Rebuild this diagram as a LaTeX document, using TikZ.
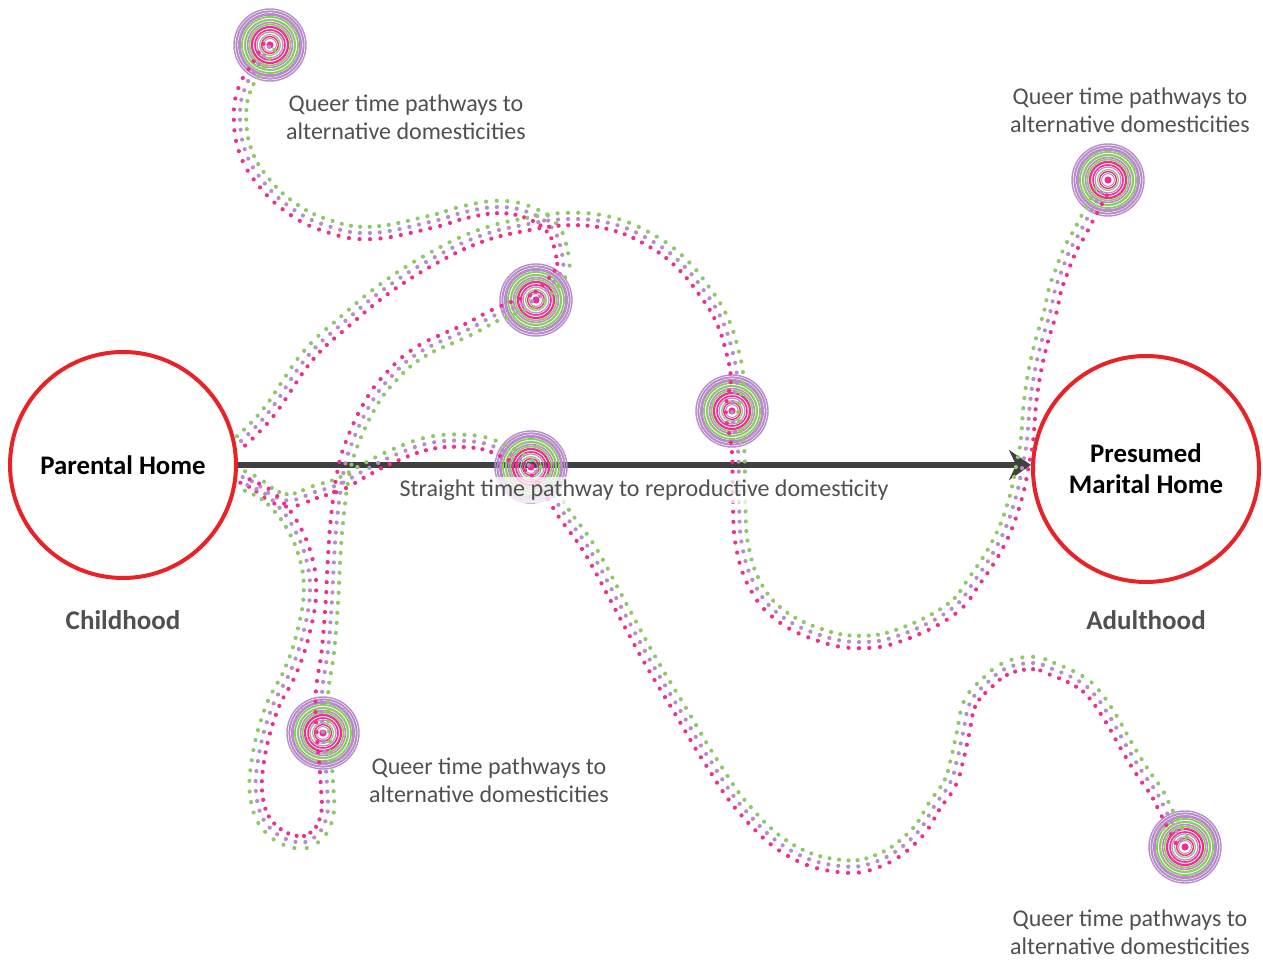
\documentclass[tikz,border=0pt]{standalone}
\usepackage{fontspec}
\setmainfont{Carlito}
\usetikzlibrary{arrows.meta,decorations.markings}
\definecolor{homered}{RGB}{232,34,38}
\definecolor{arrowgray}{RGB}{64,64,64}
\definecolor{textgray}{RGB}{80,80,80}
\definecolor{qgreen}{RGB}{142,200,104}
\definecolor{qpurple}{RGB}{184,140,202}
\definecolor{qpink}{RGB}{236,48,140}
\def\target#1(#2){%
  \coordinate (#1) at (#2);
  \foreach \r/\w/\col in {18/0.7/qpurple, 16.8/1/qpurple, 15.3/1.4/qpurple, 14/0.9/qgreen, 12.5/1.1/qgreen, 11.2/0.8/qpurple, 10.2/0.8/qgreen, 9/1.1/qpink, 7.5/0.8/qpink, 6.5/0.6/qpurple, 5.2/0.6/qgreen, 4.2/0.7/qpink, 3.2/0.5/qpurple}
    {\draw[line width=\w pt, color=\col] (#1) circle (\r pt);}
  \fill[qpink] (#1) circle (1.8pt);
}
\tikzset{
  home/.style={draw=homered, line width=2pt, circle, minimum size=113pt, inner sep=0pt, align=center, font=\bfseries\fontsize{13.4}{15.5}\selectfont},
  age/.style={text=textgray, font=\bfseries\fontsize{13.5}{16}\selectfont},
  qlabel/.style={text=textgray, align=center, font=\fontsize{12}{14}\selectfont},
  straightlabel/.style={qlabel, fill=white, fill opacity=0.75, text opacity=1, inner xsep=2pt, inner ysep=1.5pt},
  pathway/.style={decoration={markings, mark=between positions 0.004 and 0.996 step 5pt with {
      \fill[qgreen] (0pt,3.1pt) circle (1.05pt);
      \fill[qpurple] (0pt,0pt) circle (1.05pt);
      \fill[qpink] (0pt,-3.1pt) circle (1.05pt);}}, postaction={decorate}}
}
\begin{document}
\begin{tikzpicture}[x=0.5pt, y=-0.5pt]
  \useasboundingbox (0,0) rectangle (1263,961);

  % homes
  \node[home] (parental) at (123,465) {Parental Home};
  \node[home] (marital) at (1146,469) {Presumed\\Marital Home};
  \node[age] (childhood) at (123,620) {Childhood};
  \node[age] (adulthood) at (1146,620) {Adulthood};

  % straight time
  \draw[line width=3pt, arrowgray, -{Stealth[length=11pt, width=15pt]}] (parental) -- (parental -| marital.west);

  % targets
  \target{t1}(270,45)
  \target{t2}(536,300)
  \target{t3}(531,467)
  \target{t4}(732,411)
  \target{t5}(1108,180)
  \target{t6}(323,733)
  \target{t7}(1185,847)

  % queer time pathways
  \path[pathway] plot[smooth, tension=0.7] coordinates {(t1) (258,66) (245,88) (240,115) (245,150) (262,180) (290,207) (325,225) (370,233) (430,222) (465,212) (500,207) (530,213) (552,228) (561,250) (561,272) (t2)};
  \path[pathway] plot[smooth, tension=0.7] coordinates {(parental.10) (268,413) (307,357) (343,323) (387,287) (435,257) (480,236) (523,225) (570,219) (613,224) (650,240) (680,262) (705,292) (722,320) (732,350) (737,380) (t4) (738,450) (739,500) (742,545) (755,585) (780,615) (820,635) (860,642) (900,635) (950,610) (975,580) (1000,540) (1015,500) (1023,463) (1027,440) (1030,403) (1035,370) (1042,340) (1050,313) (1055,290) (1062,270) (1070,250) (1080,232) (1090,213) (t5)};
  \path[pathway] plot[smooth, tension=0.7] coordinates {(parental.-5) (255,483) (275,497) (293,500) (315,492) (340,484) (365,470) (395,455) (430,443) (465,441) (495,447) (t3) (548,488) (565,515) (590,550) (620,605) (650,660) (680,710) (710,760) (745,810) (790,850) (840,866) (880,860) (915,835) (935,805) (950,783) (957,760) (963,733) (970,703) (987,683) (1007,668) (1033,663) (1050,668) (1077,680) (1093,693) (1110,717) (1127,747) (1143,773) (1157,793) (1167,813) (t7)};
  \path[pathway] plot[smooth, tension=0.7] coordinates {(t2) (500,313) (467,330) (420,352) (390,378) (370,405) (352,443) (343,475) (337,520) (334,560) (332,600) (328,650) (322,693) (t6) (327,785) (327,815) (316,836) (296,842) (270,828) (257,800) (258,760) (271,710) (291,670) (304,630) (310,590) (305,555) (292,525) (277,505) (262,492) (parental.-8)};

  % labels
  \node[straightlabel] (straight) at (644,490) {Straight time pathway to reproductive domesticity};
  \node[qlabel] (q1) at (406,117) {Queer time pathways to\\alternative domesticities};
  \node[qlabel] (q5) at (1130,110) {Queer time pathways to\\alternative domesticities};
  \node[qlabel] (q6) at (489,780) {Queer time pathways to\\alternative domesticities};
  \node[qlabel] (q7) at (1130,932) {Queer time pathways to\\alternative domesticities};
\end{tikzpicture}
\end{document}
